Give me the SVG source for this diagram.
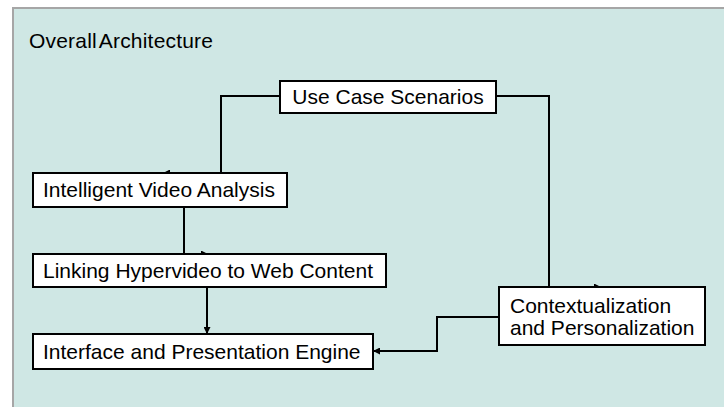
<svg xmlns="http://www.w3.org/2000/svg" width="724" height="407" viewBox="0 0 724 407">
  <defs>
    <marker id="arr" viewBox="0 0 10 10" refX="10" refY="5" markerWidth="7" markerHeight="7" markerUnits="userSpaceOnUse" orient="auto">
      <path d="M0,0 L10,5 L0,10 z" fill="#000"/>
    </marker>
    <style>
      .box { fill: #ffffff; stroke: #000000; stroke-width: 2; }
      .lbl { font-family: "Liberation Sans", Arial, sans-serif; font-size: 21px; fill: #000000; }
      .wire { fill: none; stroke: #000000; stroke-width: 2; }
    </style>
  </defs>

  <!-- page background and panel -->
  <rect x="0" y="0" width="724" height="407" fill="#ffffff"/>
  <rect x="13" y="8" width="720" height="410" fill="#cfe7e4" stroke="#a6a6a6" stroke-width="2"/>
  <text class="lbl" x="29" y="48" font-size="19" word-spacing="-3" textLength="184" lengthAdjust="spacing">Overall Architecture</text>

  <!-- connectors -->
  <g id="connectors">
    <path class="wire" d="M280,96 H221 V173 H163" marker-end="url(#arr)"/>
    <path class="wire" d="M184,207 V254 H208" marker-end="url(#arr)"/>
    <path class="wire" d="M207,287 V334" marker-end="url(#arr)"/>
    <path class="wire" d="M496,96 H549 V287 H601" marker-end="url(#arr)"/>
    <path class="wire" d="M499,317 H437 V351 H373" marker-end="url(#arr)"/>
  </g>

  <g id="use-case-scenarios">
    <rect class="box" x="280" y="81" width="216" height="32"/>
    <text class="lbl" x="388" y="104" text-anchor="middle">Use Case Scenarios</text>
  </g>

  <g id="intelligent-video-analysis">
    <rect class="box" x="33" y="173" width="254" height="34"/>
    <text class="lbl" x="43" y="197">Intelligent Video Analysis</text>
  </g>

  <g id="linking-hypervideo">
    <rect class="box" x="33" y="254" width="353" height="33"/>
    <text class="lbl" x="43" y="278">Linking Hypervideo to Web Content</text>
  </g>

  <g id="interface-presentation">
    <rect class="box" x="33" y="334" width="340" height="35"/>
    <text class="lbl" x="43" y="359">Interface and Presentation Engine</text>
  </g>

  <g id="contextualization-personalization">
    <rect class="box" x="499" y="287" width="206" height="58"/>
    <text class="lbl" x="510" y="313">Contextualization</text>
    <text class="lbl" x="510" y="335">and Personalization</text>
  </g>
</svg>
